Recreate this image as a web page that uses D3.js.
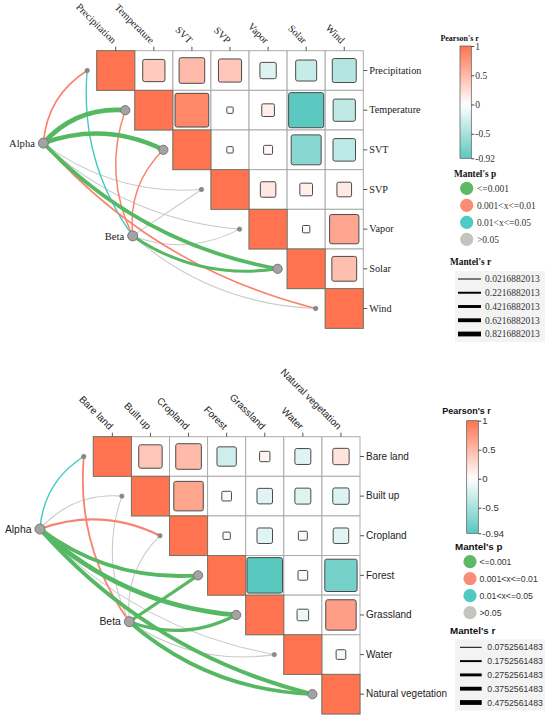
<!DOCTYPE html>
<html><head><meta charset="utf-8">
<script src="https://cdn.jsdelivr.net/npm/d3@7"></script>
<style>body{margin:0;background:#fff}svg{display:block}</style>
</head><body>
<svg id="chart" width="550" height="721"></svg>
<script>
// ---------------- DATA ----------------
const climateVars = ["Precipitation","Temperature","SVT","SVP","Vapor","Solar","Wind"];
const climateCorr = [
  [1, 0.37, 0.49, 0.40, -0.20, -0.33, -0.43],
  [null, 1, 0.85, 0.03, 0.12, -0.92, -0.37],
  [null, null, 1, 0.03, 0.06, -0.67, -0.38],
  [null, null, null, 1, 0.18, 0.12, 0.16],
  [null, null, null, null, 1, 0.04, 0.64],
  [null, null, null, null, null, 1, 0.46],
  [null, null, null, null, null, null, 1]
];
const climateAlphaR = [0.15, 0.82, 0.78, 0.04, 0.04, 0.62, 0.15];
const climateAlphaP = [0.005, 0.0005, 0.0005, 0.3, 0.4, 0.0005, 0.005];
const climateBetaR  = [0.10, 0.12, 0.12, 0.03, 0.03, 0.45, 0.04];
const climateBetaP  = [0.03, 0.005, 0.005, 0.3, 0.4, 0.0005, 0.2];
const climateColorTicks = [1, 0.5, 0, -0.5, -0.92];
const climateRBreaks = [0.0216882013, 0.2216882013, 0.4216882013, 0.6216882013, 0.8216882013];

const landVars = ["Bare land","Built up","Cropland","Forest","Grassland","Water","Natural vegetation"];
const landCorr = [
  [1, 0.41, 0.49, -0.28, 0.08, -0.19, 0.20],
  [null, 1, 0.65, 0.07, -0.18, -0.19, -0.20],
  [null, null, 1, 0.04, -0.18, -0.06, -0.18],
  [null, null, null, 1, -0.94, 0.07, -0.78],
  [null, null, null, null, 1, -0.10, 0.69],
  [null, null, null, null, null, 1, -0.07],
  [null, null, null, null, null, null, 1]
];
const landAlphaR = [0.12, 0.09, 0.20, 0.38, 0.4752561483, 0.0752561483, 0.40];
const landAlphaP = [0.03, 0.2, 0.005, 0.0005, 0.0005, 0.3, 0.0005];
const landBetaR  = [0.16, 0.08, 0.08, 0.30, 0.31, 0.09, 0.37];
const landBetaP  = [0.005, 0.2, 0.2, 0.0005, 0.0005, 0.3, 0.0005];
const landColorTicks = [1, 0.5, 0, -0.5, -0.94];
const landRBreaks = [0.0752561483, 0.1752561483, 0.2752561483, 0.3752561483, 0.4752561483];

const envNames = ["Alpha","Beta"];
const pLabels = ["<=0.001","0.001<x<=0.01","0.01<x<=0.05",">0.05"];

// ---------------- STYLE ----------------
const HIGH = "#FF7350", LOW = "#4EC4BA";
const pColors = ["#56B862","#F9826E","#3FCAC1","#C9C9C9"];
const pLegendColors = ["#5DBA63","#FA8C76","#4DCAC2","#C5C3C0"];
const fillScale = d3.scaleLinear().domain([-1,0,1]).range([LOW,"#FFFFFF",HIGH]);
function pClass(p){ return p<=0.001?0:(p<=0.01?1:(p<=0.05?2:3)); }

const svg = d3.select("#chart");
const defs = svg.append("defs");

function curvePath(s, e, sign){
  const dx=e[0]-s[0], dy=e[1]-s[1], L=Math.hypot(dx,dy);
  const ux=dx/L, uy=dy/L, nx=uy, ny=-ux;
  const d=(0.06*L+5.5)*2*sign;
  const cx=(s[0]+e[0])/2+nx*d, cy=(s[1]+e[1])/2+ny*d;
  return `M${s[0]},${s[1]}Q${cx},${cy} ${e[0]},${e[1]}`;
}

function drawPanel(c){
  const g = svg.append("g");
  const x = d3.scaleBand().domain(c.vars).range([c.x0, c.x0+c.w]);
  const y = d3.scaleBand().domain(c.vars).range([c.y0, c.y0+c.h]);
  const bw = x.bandwidth(), bh = y.bandwidth();
  const cells = [];
  c.corr.forEach((row,i)=>row.forEach((v,j)=>{ if(v!==null) cells.push({i,j,v}); }));

  // cell borders
  g.append("g").selectAll("rect").data(cells).join("rect")
    .attr("x",d=>x(c.vars[d.j])).attr("y",d=>y(c.vars[d.i]))
    .attr("width",bw).attr("height",bh)
    .attr("fill","#fff").attr("stroke","#ABABAB").attr("stroke-width",1);

  // squares
  g.append("g").selectAll("rect").data(cells).join("rect")
    .each(function(d){
      const s = d.i===d.j ? null : Math.sqrt(Math.abs(d.v))*0.96*bw;
      const el = d3.select(this);
      if(s===null){
        el.attr("x",x(c.vars[d.j])).attr("y",y(c.vars[d.i])).attr("width",bw).attr("height",bh)
          .attr("stroke","#6f735f").attr("stroke-width",0.9);
      } else {
        el.attr("x",x(c.vars[d.j])+(bw-s)/2).attr("y",y(c.vars[d.i])+(bh-s)/2)
          .attr("width",s).attr("height",s).attr("rx",Math.min(2, s*0.12))
          .attr("stroke","#4a4a4a").attr("stroke-width",1);
      }
    })
    .attr("fill",d=>fillScale(d.v));

  // axes
  const top = g.append("g").attr("transform",`translate(0,${c.y0})`)
    .call(d3.axisTop(x).tickSize(4).tickPadding(3));
  top.select(".domain").remove();
  top.selectAll("line").attr("stroke","#555");
  top.selectAll("text").attr("text-anchor","end").attr("x",0).attr("y",0).attr("dy","0.35em")
    .attr("transform","translate(-1,-9) rotate(45)")
    .style("font-family",c.font).style("font-size",c.fs+"px").attr("fill","#222");
  const right = g.append("g").attr("transform",`translate(${c.x0+c.w},0)`)
    .call(d3.axisRight(y).tickSize(4).tickPadding(2));
  right.select(".domain").remove();
  right.selectAll("line").attr("stroke","#555");
  right.selectAll("text").style("font-family",c.font).style("font-size",c.fs+"px").attr("fill","#222");

  // nodes
  const env = {
    Alpha: {pos:[c.x0-1.4*bw, c.y0+2.33*bh], r:c.alphaR, p:c.alphaP, pivot:2.5},
    Beta:  {pos:[c.x0+0.945*bw, c.y0+4.67*bh], r:c.betaR, p:c.betaP, pivot:3}
  };
  const targets = c.vars.map((v,i)=>[x(v)-0.25*bw, y(v)+bh/2]);
  const wScale = d3.scaleLinear().domain([c.rBreaks[0], c.rBreaks[4]]).range([1,4.8]);
  const links = [];
  envNames.forEach(name=>{
    const e = env[name];
    c.vars.forEach((v,i)=>{
      const sign = Math.max(-1, Math.min(1, 2*(e.pivot - i)));
      links.push({s:e.pos, t:targets[i], r:e.r[i], k:pClass(e.p[i]), sign});
    });
  });
  links.sort((a,b)=> (a.k===3?0:1)-(b.k===3?0:1) || a.r-b.r);
  g.append("g").selectAll("path").data(links).join("path")
    .attr("d",d=>curvePath(d.s,d.t,d.sign))
    .attr("fill","none").attr("stroke",d=>pColors[d.k])
    .attr("stroke-width",d=>wScale(d.r)).attr("stroke-linecap","butt");

  const big = c.vars.map((v,i)=> (pClass(c.alphaP[i])===0 || pClass(c.betaP[i])===0));
  g.append("g").selectAll("circle").data(targets).join("circle")
    .attr("cx",d=>d[0]).attr("cy",d=>d[1])
    .attr("r",(d,i)=>big[i]?4.6:2.2)
    .attr("fill",(d,i)=>big[i]?"#A3A3A3":"#8a8a8a").attr("stroke","#777").attr("stroke-width",(d,i)=>big[i]?1:0.6);
  envNames.forEach(name=>{
    const p = env[name].pos;
    g.append("circle").attr("cx",p[0]).attr("cy",p[1]).attr("r",5)
      .attr("fill","#A3A3A3").attr("stroke","#777").attr("stroke-width",1);
    g.append("text").attr("x",p[0]-8.5).attr("y",p[1]).attr("dy","0.35em").attr("text-anchor","end")
      .style("font-family",c.font).style("font-size",c.envFs+"px").attr("fill","#222").text(name);
  });

  // colorbar
  const L = c.legend;
  const cb = d3.scaleLinear().domain([c.colorTicks[0], c.colorTicks[c.colorTicks.length-1]]).range([L.cbY0, L.cbY1]);
  const gid = "grad"+c.id;
  const grad = defs.append("linearGradient").attr("id",gid).attr("x1",0).attr("x2",0).attr("y1",0).attr("y2",1);
  d3.range(0,1.0001,0.05).forEach(t=>{
    const v = cb.invert(L.cbY0 + t*(L.cbY1-L.cbY0));
    grad.append("stop").attr("offset",t).attr("stop-color",fillScale(v));
  });
  g.append("rect").attr("x",L.cbX).attr("y",L.cbY0).attr("width",L.cbW).attr("height",L.cbY1-L.cbY0)
    .attr("fill",`url(#${gid})`).attr("stroke","#555").attr("stroke-width",0.7);
  const cbAxis = g.append("g").attr("transform",`translate(${L.cbX+L.cbW},0)`)
    .call(d3.axisRight(cb).tickValues(c.colorTicks).tickSize(3).tickPadding(1).tickFormat(d=>String(d)));
  cbAxis.select(".domain").remove();
  cbAxis.selectAll("line").attr("stroke","#444");
  cbAxis.selectAll("text").style("font-family",c.font).style("font-size",L.tickFs+"px").attr("fill","#333");
  g.append("text").attr("x",L.cbX+L.cbW/2-6).attr("y",L.cbY0-L.cbTitleGap).attr("text-anchor","middle")
    .style("font-family",c.font).style("font-size",L.cbTitleFs+"px").style("font-weight","bold").attr("fill","#111")
    .text("Pearson's r");

  // Mantel's p legend
  g.append("text").attr("x",L.pX).attr("y",L.pTitleY).style("font-family",c.font)
    .style("font-size",L.titleFs+"px").style("font-weight","bold").attr("fill","#111").text("Mantel's p");
  const pg = g.append("g").selectAll("g").data(pLabels).join("g")
    .attr("transform",(d,i)=>`translate(${L.pCircX},${L.pY0+i*L.pStep})`);
  pg.append("circle").attr("r",6.6).attr("fill",(d,i)=>pLegendColors[i]);
  pg.append("text").attr("x",L.pLabX-L.pCircX).attr("dy","0.35em").style("font-family",c.font)
    .style("font-size",L.labFs+"px").attr("fill","#333").text(d=>d);

  // Mantel's r legend
  g.append("text").attr("x",L.rX).attr("y",L.rTitleY).style("font-family",c.font)
    .style("font-size",L.titleFs+"px").style("font-weight","bold").attr("fill","#111").text("Mantel's r");
  g.append("rect").attr("x",L.rBgX).attr("y",L.rY0-8).attr("width",90).attr("height",4*L.rStep+16)
    .attr("fill","#F3F3F3");
  const rg = g.append("g").selectAll("g").data(c.rBreaks).join("g")
    .attr("transform",(d,i)=>`translate(0,${L.rY0+i*L.rStep})`);
  rg.append("line").attr("x1",L.rLineX0).attr("x2",L.rLineX1)
    .attr("stroke","#000").attr("stroke-width",d=>wScale(d));
  rg.append("text").attr("x",L.rLabX).attr("dy","0.35em").style("font-family",c.font)
    .style("font-size",L.labFs+"px").attr("fill","#333").text(d=>String(d));
}

drawPanel({
  id:1, vars:climateVars, corr:climateCorr, alphaR:climateAlphaR, alphaP:climateAlphaP,
  betaR:climateBetaR, betaP:climateBetaP, colorTicks:climateColorTicks, rBreaks:climateRBreaks,
  x0:96.7, y0:50.7, w:266.6, h:277.6, font:"'Liberation Serif', 'Times New Roman', serif", fs:10.2, envFs:10.6,
  legend:{cbX:460, cbW:11.3, cbY0:46, cbY1:158.3, tickFs:9.5, cbTitleFs:8, cbTitleGap:5,
    titleFs:9.3, labFs:9.5, pX:454, pTitleY:176.5, pCircX:466.7, pLabX:477, pY0:188.3, pStep:17,
    rX:450, rTitleY:265, rBgX:455, rY0:279, rStep:13.75, rLineX0:458, rLineX1:481, rLabX:485}
});
drawPanel({
  id:2, vars:landVars, corr:landCorr, alphaR:landAlphaR, alphaP:landAlphaP,
  betaR:landBetaR, betaP:landBetaP, colorTicks:landColorTicks, rBreaks:landRBreaks,
  x0:93.3, y0:436.7, w:266.7, h:277.3, font:"'Liberation Sans', Arial, sans-serif", fs:10, envFs:10.4,
  legend:{cbX:466.7, cbW:11.6, cbY0:420.7, cbY1:533.3, tickFs:9.5, cbTitleFs:9, cbTitleGap:7,
    titleFs:9.8, labFs:8.7, pX:455, pTitleY:549.5, pCircX:470, pLabX:479.5, pY0:561.7, pStep:17,
    rX:450, rTitleY:633.5, rBgX:455, rY0:647.3, rStep:13.8, rLineX0:460, rLineX1:481.7, rLabX:487.3}
});
</script>
</body></html>
